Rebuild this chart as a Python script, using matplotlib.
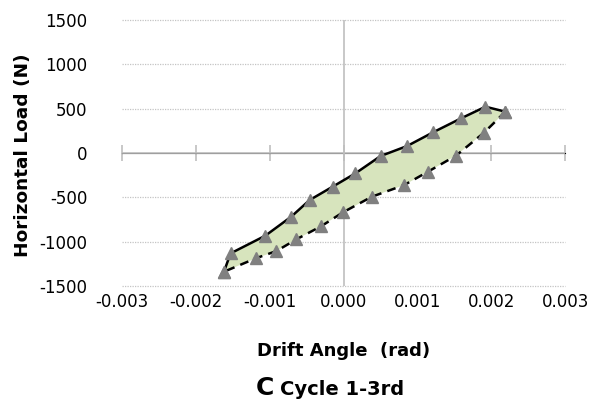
import matplotlib
matplotlib.use("Agg")
import matplotlib.pyplot as plt

plt.rcParams['font.family'] = ['DejaVu Sans']

# Upper (solid) branch, starting at the lower-left turning point
up_x = [-0.00162, -0.00153, -0.00106, -0.00071, -0.00046, -0.00015, 0.00016,
        0.00050, 0.00086, 0.00121, 0.00159, 0.00192, 0.00219]
up_y = [-1338, -1131, -932, -718, -530, -380, -229, -34, 79, 233, 391, 522, 466]
# Lower (dashed) branch, from the right turning point back to the left
low_x = [0.00219, 0.00190, 0.00152, 0.00114, 0.00082, 0.00038, -0.00001,
         -0.00030, -0.00064, -0.00091, -0.00119, -0.00162]
low_y = [466, 229, -30, -211, -361, -493, -669, -823, -973, -1105, -1187, -1338]

x_ticks = [-0.003, -0.002, -0.001, 0.0, 0.001, 0.002, 0.003]
x_labels = ['-0.003', '-0.002', '-0.001', '0.000', '0.001', '0.002', '0.003']
y_ticks = [-1500, -1000, -500, 0, 500, 1000, 1500]
y_labels = ['-1500', '-1000', '-500', '0', '500', '1000', '1500']

fig = plt.figure(figsize=(5.95, 4.07), dpi=100)
ax = fig.add_axes([0.205, 0.297, 0.745, 0.654])

ax.set_xlim(-0.003, 0.003)
ax.set_ylim(-1500, 1500)

# grid lines (dotted), except zero
for yv in y_ticks:
    if yv != 0:
        ax.axhline(yv, color='#c4c4c4', linestyle=(0, (1, 1)), linewidth=0.9,
                   zorder=1, clip_on=False)
ax.axhline(0, color='#bfbfbf', linewidth=1.2, zorder=1)
ax.axvline(0, color='#bfbfbf', linewidth=1.2, zorder=1)

# zero-line ticks
sec = ax.secondary_xaxis(0.5)
sec.set_xticks(x_ticks)
sec.tick_params(direction='inout', length=12, width=1.2, color='#bfbfbf', labelbottom=False)
sec.spines['bottom'].set_visible(False)
sec.set_xticklabels([])

# fill
poly_x = up_x + low_x[1:]
poly_y = up_y + low_y[1:]
ax.fill(poly_x, poly_y, color='#d7e4bd', zorder=2, linewidth=0)

ax.plot(up_x, up_y, color='black', linewidth=1.8, zorder=3)
ax.plot(low_x, low_y, color='black', linewidth=1.8, linestyle=(0, (3.5, 2.5)), zorder=3)
ax.plot(up_x, up_y, linestyle='none', marker='^', markersize=9,
        color='#808080', zorder=4)
ax.plot(low_x, low_y, linestyle='none', marker='^', markersize=9,
        color='#808080', zorder=4)

for s in ax.spines.values():
    s.set_visible(False)

ax.set_xticks(x_ticks)
ax.set_xticklabels(x_labels)
ax.set_yticks(y_ticks)
ax.set_yticklabels(y_labels)
ax.tick_params(axis='both', length=0, labelsize=12, colors='black')
ax.tick_params(axis='x', pad=5)
ax.tick_params(axis='y', pad=25)

fig.text(0.577, 0.138, 'Drift Angle  (rad)', ha='center', va='center',
         fontsize=13, fontweight='bold')
fig.text(0.039, 0.619, 'Horizontal Load (N)', ha='center', va='center',
         fontsize=13.3, fontweight='bold', rotation=90)
fig.text(0.461, 0.03, 'C', ha='right', va='baseline', fontsize=18, fontweight='bold')
fig.text(0.471, 0.03, 'Cycle 1-3rd', ha='left', va='baseline', fontsize=14, fontweight='bold')

fig.savefig('out.png', dpi=100, facecolor='white')
